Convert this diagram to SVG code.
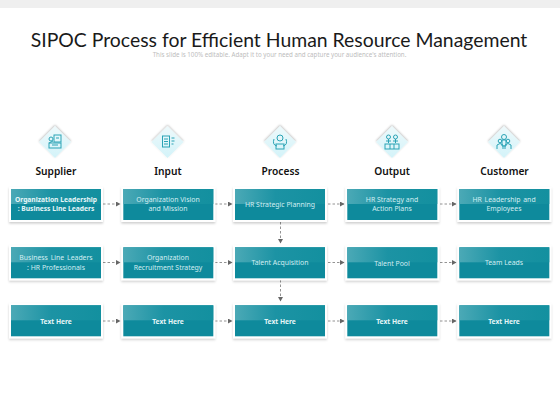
<svg xmlns="http://www.w3.org/2000/svg" width="560" height="420" viewBox="0 0 560 420">
<defs>
<linearGradient id="gloss" x1="0" y1="0" x2="1" y2="0"><stop offset="0" stop-color="#4ba9b6"/><stop offset="0.45" stop-color="#1c93a4"/><stop offset="1" stop-color="#13909f"/></linearGradient>
<linearGradient id="dia" x1="0" y1="0" x2="0" y2="1"><stop offset="0" stop-color="#eef9fb"/><stop offset="1" stop-color="#d3f3f9"/></linearGradient>
<filter id="sh" x="-10%" y="-20%" width="120%" height="150%"><feDropShadow dx="0" dy="1.5" stdDeviation="1.200" flood-color="#000" flood-opacity="0.2"/></filter>
<filter id="dsh" x="-20%" y="-20%" width="140%" height="140%"><feDropShadow dx="0" dy="-1" stdDeviation="1" flood-color="#000" flood-opacity="0.28"/></filter>
<marker id="ah" markerWidth="5" markerHeight="5" refX="4" refY="2.500" orient="auto" markerUnits="userSpaceOnUse"><path d="M0 0L4.500 2.500L0 5Z" fill="#666"/></marker>
<g id="box"><rect x="-2" y="-2" width="94" height="35" fill="#fff" filter="url(#sh)"/><rect width="90" height="31" fill="#0e8a9c"/><rect width="90" height="15" fill="url(#gloss)"/></g>
<g id="dmd"><path d="M0 -16L16 0L0 16L-16 0Z" fill="url(#dia)" filter="url(#dsh)"/></g>
</defs>
<style>
text{font-family:"Noto Sans","Open Sans",sans-serif;text-anchor:middle}
.t{font-size:6.9px;fill:#d3eef2}
.b{font-size:6.700px;fill:#e6f6f8;font-weight:700}
.h{font-size:10.200px;fill:#111;font-weight:600}
.ln{fill:none;stroke:#777;stroke-width:.8;stroke-dasharray:2.500 2;marker-end:url(#ah)}
.ic{fill:none;stroke:#2aa3b5;stroke-width:1}
</style>
<rect width="560" height="420" fill="#fff"/>
<rect width="560" height="8" fill="#efefef"/>
<text x="279" y="46.500" font-size="19.400" fill="#1a1a1a" style="font-family:Lato,'Noto Sans',sans-serif">SIPOC Process for Efficient Human Resource Management</text>
<text x="279.500" y="57" font-size="6.200" fill="#bdbdbd">This slide is 100% editable. Adapt it to your need and capture your audience's attention.</text>

<g id="connectors">
<path class="ln" d="M103 204H120"/><path class="ln" d="M215 204H232"/><path class="ln" d="M328 204H344"/><path class="ln" d="M440 204H456"/>
<path class="ln" d="M103 262.500H120"/><path class="ln" d="M215 262.500H232"/><path class="ln" d="M328 262.500H344"/><path class="ln" d="M440 262.500H456"/>
<path class="ln" d="M103 321H120"/><path class="ln" d="M215 321H232"/><path class="ln" d="M328 321H344"/><path class="ln" d="M440 321H456"/>
<path class="ln" d="M280.500 222V243"/><path class="ln" d="M280.500 280V301"/>
</g>

<g id="supplier"><use href="#dmd" x="55" y="142"/>
<g class="ic" transform="translate(55 142)"><rect x="-1" y="-7" width="7" height="7"/><rect x="-6" y="1" width="12" height="5"/><circle cx="-4" cy="-3" r="2"/><path d="M-6 1L-2 -1M1 -4H4M-3 3H3"/></g>
<text class="h" x="56" y="175">Supplier</text></g>
<g id="input"><use href="#dmd" x="167.500" y="142"/>
<g class="ic" transform="translate(167.500 142)"><rect x="-5" y="-6" width="7" height="11"/><path d="M-3.500 -3H.5M-3.500 -.5H.5M-3.500 2H.5M4 -4H7M4 -1H7M4 2H6"/></g>
<text class="h" x="168" y="175">Input</text></g>
<g id="process"><use href="#dmd" x="280" y="142"/>
<g class="ic" transform="translate(280 142)"><circle cx="0" cy="-4" r="3"/><path d="M-6 -3Q-8 3 -3 4M6 -3Q8 3 3 4"/><rect x="-4" y="2" width="8" height="5"/></g>
<text class="h" x="280.500" y="175">Process</text></g>
<g id="output"><use href="#dmd" x="392" y="142"/>
<g class="ic" transform="translate(392 142)"><circle cx="-3.500" cy="-5" r="2"/><circle cx="3.500" cy="-5" r="2"/><path d="M-6 -1H-1M1 -1H6M-3.500 -3V1M3.500 -3V1"/><rect x="-7" y="2" width="14" height="5"/><path d="M-2 2V7M2 2V7"/></g>
<text class="h" x="392" y="175">Output</text></g>
<g id="customer"><use href="#dmd" x="504" y="142"/>
<g class="ic" transform="translate(504 142)"><circle cx="0" cy="-5" r="2.500"/><circle cx="-4" cy="-1" r="1.800"/><circle cx="4" cy="-1" r="1.800"/><path d="M-7 7V3Q-4 0 -1 3V7M1 7V3Q4 0 7 3V7M-2 -2H2V4H-2Z"/></g>
<text class="h" x="504.500" y="175">Customer</text></g>

<g id="n11"><use href="#box" x="11" y="189"/><text class="b" x="56" y="201.500">Organization Leadership</text><text class="b" x="56" y="211">: Business Line Leaders</text></g>
<g id="n12"><use href="#box" x="123.300" y="189"/><text class="t" x="168" y="201.500">Organization Vision</text><text class="t" x="168" y="211">and Mission</text></g>
<g id="n13"><use href="#box" x="235" y="189"/><text class="t" x="280" y="206.500">HR Strategic Planning</text></g>
<g id="n14"><use href="#box" x="347.300" y="189"/><text class="t" x="392" y="201.500">HR Strategy and</text><text class="t" x="392" y="211">Action Plans</text></g>
<g id="n15"><use href="#box" x="459.300" y="189"/><text class="t" x="504" y="201.500" word-spacing="1">HR Leadership and</text><text class="t" x="504" y="211">Employees</text></g>

<g id="n21"><use href="#box" x="11" y="247.300"/><text class="t" x="56" y="260" word-spacing="1">Business Line Leaders</text><text class="t" x="56" y="269.500">: HR Professionals</text></g>
<g id="n22"><use href="#box" x="123.300" y="247.300"/><text class="t" x="168" y="260">Organization</text><text class="t" x="168" y="269.500">Recruitment Strategy</text></g>
<g id="n23"><use href="#box" x="235" y="247.300"/><text class="t" x="280" y="265">Talent Acquisition</text></g>
<g id="n24"><use href="#box" x="347.300" y="247.300"/><text class="t" x="392" y="265.500">Talent Pool</text></g>
<g id="n25"><use href="#box" x="459.300" y="247.300"/><text class="t" x="504" y="265">Team Leads</text></g>

<g id="n31"><use href="#box" x="11" y="305.300"/><text class="b" x="56" y="323.500">Text Here</text></g>
<g id="n32"><use href="#box" x="123.300" y="305.300"/><text class="b" x="168" y="323.500">Text Here</text></g>
<g id="n33"><use href="#box" x="235" y="305.300"/><text class="b" x="280" y="323.500">Text Here</text></g>
<g id="n34"><use href="#box" x="347.300" y="305.300"/><text class="b" x="392" y="323.500">Text Here</text></g>
<g id="n35"><use href="#box" x="459.300" y="305.300"/><text class="b" x="504" y="323.500">Text Here</text></g>
</svg>
